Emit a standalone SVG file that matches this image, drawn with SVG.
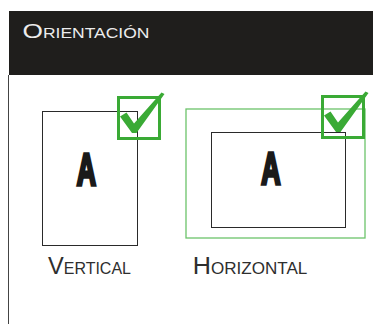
<svg xmlns="http://www.w3.org/2000/svg" width="373" height="324" viewBox="0 0 373 324">
<style>
.lbl{font-family:"Liberation Sans",Arial,sans-serif;fill:#2e2e2e}
.big{font-family:"Liberation Sans",Arial,sans-serif;font-weight:bold;fill:#1a1a1a;stroke:#1a1a1a;stroke-width:3.4;stroke-linejoin:miter;text-anchor:middle}
.page{fill:none;stroke:#2a2a2a;stroke-width:1}
.chk{fill:none;stroke:#3aaa35;stroke-width:3}
.tick{fill:#3aaa35}
</style>
<defs>
<path id="tick" class="tick" d="M3,20.5 L9.5,16.5 L17,27.5 L44.5,-3.5 L47.5,-2 L19.5,37 L15,37 Z"/>
</defs>
<rect width="373" height="324" fill="#fff"/>
<g id="header">
<rect x="9" y="11" width="364" height="64" fill="#1f1e1c"/>
<line x1="8.5" y1="75" x2="8.5" y2="324" stroke="#444" stroke-width="1"/>
<text x="22.5" y="38.3" font-family="Liberation Sans,Arial,sans-serif" fill="#ececec" textLength="127" lengthAdjust="spacingAndGlyphs"><tspan font-size="21">O</tspan><tspan font-size="14">RIENTACIÓN</tspan></text>
</g>
<g id="vertical">
<rect class="page" x="42.5" y="111.5" width="95" height="134"/>
<text class="big" x="0" y="0" font-size="44.5" transform="translate(86.5,185) scale(0.6,1)">A</text>
<rect class="chk" x="118.5" y="97.5" width="41" height="41"/>
<use href="#tick" transform="translate(117,96)"/>
<text class="lbl" x="48" y="274.3" textLength="83" lengthAdjust="spacingAndGlyphs"><tspan font-size="24">V</tspan><tspan font-size="16.3">ERTICAL</tspan></text>
</g>
<g id="horizontal">
<rect x="186" y="109" width="179" height="129" fill="none" stroke="#6cc36a" stroke-width="1.3"/>
<rect class="page" x="211.5" y="132.5" width="134" height="95"/>
<text class="big" x="0" y="0" font-size="44.5" transform="translate(271,184) scale(0.6,1)">A</text>
<rect class="chk" x="322.5" y="96.5" width="41" height="41" fill="#fff"/>
<use href="#tick" transform="translate(321,95)"/>
<text class="lbl" x="192.7" y="274.3" textLength="114.6" lengthAdjust="spacingAndGlyphs"><tspan font-size="24.5">H</tspan><tspan font-size="16.6">ORIZONTAL</tspan></text>
</g>
<g id="connectors"/>
</svg>
